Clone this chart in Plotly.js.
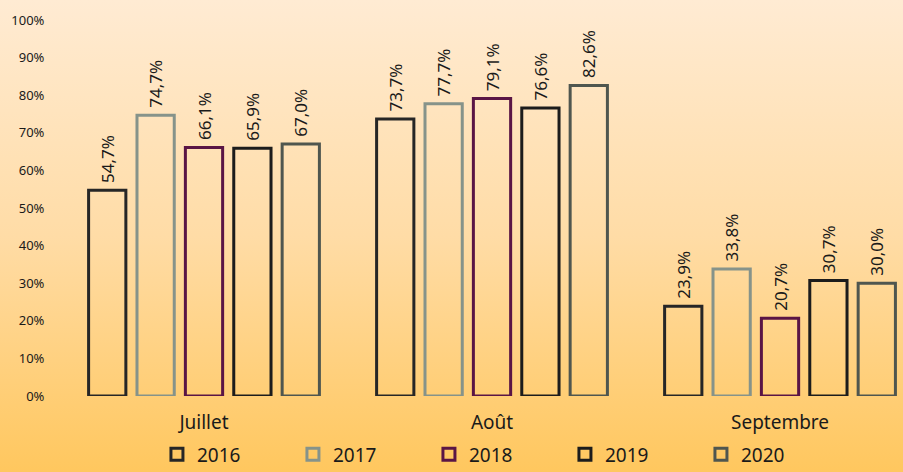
<!DOCTYPE html>
<html>
<head>
<meta charset="utf-8">
<script src="https://cdn.plot.ly/plotly-3.0.1.min.js"></script>
<style>
html,body{margin:0;padding:0;}
body{width:903px;height:472px;background:linear-gradient(to bottom,#FFEBD3 0%,#FFDCA6 50%,#FFC75E 100%);}
#chart{width:903px;height:472px;}
</style>
</head>
<body>
<div id="chart"></div>
<script>
const categories = ["Juillet", "Août", "Septembre"];
const years = ["2016", "2017", "2018", "2019", "2020"];
const v2016 = [54.7, 73.7, 23.9];
const v2017 = [74.7, 77.7, 33.8];
const v2018 = [66.1, 79.1, 20.7];
const v2019 = [65.9, 76.6, 30.7];
const v2020 = [67.0, 82.6, 30.0];
const yTickVals = [0, 10, 20, 30, 40, 50, 60, 70, 80, 90, 100];
const yTickText = ["0%", "10%", "20%", "30%", "40%", "50%", "60%", "70%", "80%", "90%", "100%"];

const seriesValues = [v2016, v2017, v2018, v2019, v2020];
const lineColors = ["#262626", "#86938A", "#5A1545", "#1C1C1C", "#4F564F"];

const fmt = v => "\u00a0" + v.toFixed(1).replace(".", ",") + "%";

const traces = years.map((y, i) => ({
  type: "bar",
  name: y,
  x: categories,
  y: seriesValues[i],
  text: seriesValues[i].map(fmt),
  textposition: "outside",
  textangle: -90,
  constraintext: "none",
  cliponaxis: false,
  textfont: {family: "Noto Sans, sans-serif", size: 17, color: "#1a1a1a"},
  marker: {color: "rgba(0,0,0,0)", line: {color: lineColors[i], width: 3}},
  hoverinfo: "none"
}));

const layout = {
  width: 903,
  height: 472,
  paper_bgcolor: "rgba(0,0,0,0)",
  plot_bgcolor: "rgba(0,0,0,0)",
  margin: {l: 60, r: 0, t: 20, b: 76, autoexpand: false},
  barmode: "group",
  bargap: 0.16,
  bargroupgap: 0.23,
  showlegend: true,
  font: {family: "Noto Sans, sans-serif", color: "#1a1a1a"},
  xaxis: {
    range: [-0.5, 2.427],
    showgrid: false,
    zeroline: false,
    showline: false,
    ticks: "outside",
    ticklen: 9,
    tickcolor: "rgba(0,0,0,0)",
    tickfont: {size: 19, color: "#1a1a1a"},
    fixedrange: true
  },
  yaxis: {
    range: [0, 100],
    tickvals: yTickVals,
    ticktext: yTickText,
    showgrid: false,
    zeroline: false,
    showline: false,
    ticks: "outside",
    ticklen: 12,
    tickcolor: "rgba(0,0,0,0)",
    tickfont: {size: 13, color: "#1a1a1a"},
    fixedrange: true
  },
  legend: {
    orientation: "h",
    x: 0.115,
    xanchor: "left",
    y: -0.105,
    yanchor: "top",
    entrywidth: 91,
    entrywidthmode: "pixels",
    font: {size: 19, color: "#1a1a1a"},
    bgcolor: "rgba(0,0,0,0)"
  }
};

Plotly.newPlot("chart", traces, layout, {displayModeBar: false, staticPlot: true});
</script>
</body>
</html>
